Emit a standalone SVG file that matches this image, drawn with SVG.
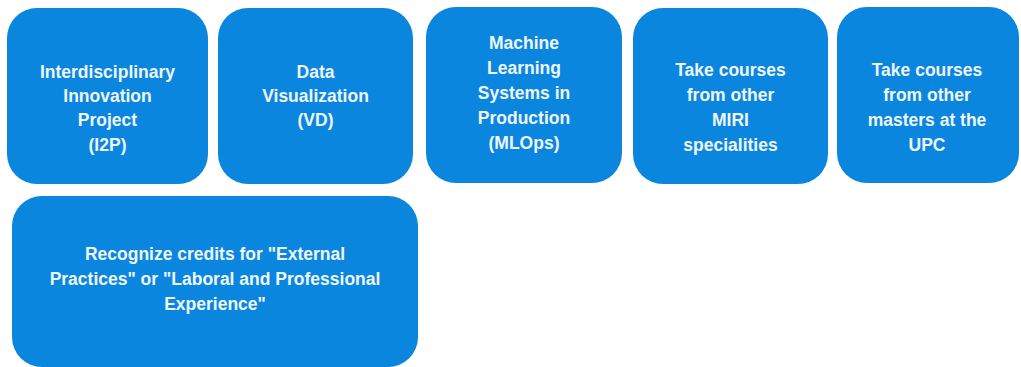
<svg xmlns="http://www.w3.org/2000/svg" width="1021" height="367" viewBox="0 0 1021 367">
<style>
.box{fill:#0a86df;}
.lbl{font-family:"Liberation Sans",Arial,sans-serif;font-weight:bold;font-size:17.5px;fill:#eef6ff;text-anchor:middle;}
</style>
<rect width="1021" height="367" fill="#ffffff"/>
<g id="node-i2p">
<rect class="box" x="7" y="8" width="201" height="176" rx="30"/>
<text class="lbl" x="107.5" y="78">Interdisciplinary</text>
<text class="lbl" x="107.5" y="102">Innovation</text>
<text class="lbl" x="107.5" y="126">Project</text>
<text class="lbl" x="107.5" y="151">(I2P)</text>
</g>
<g id="node-vd">
<rect class="box" x="218" y="8" width="195" height="176" rx="30"/>
<text class="lbl" x="315.5" y="78">Data</text>
<text class="lbl" x="315.5" y="102">Visualization</text>
<text class="lbl" x="315.5" y="126">(VD)</text>
</g>
<g id="node-mlops">
<rect class="box" x="426" y="7" width="196" height="176" rx="30"/>
<text class="lbl" x="524" y="49">Machine</text>
<text class="lbl" x="524" y="74">Learning</text>
<text class="lbl" x="524" y="99">Systems in</text>
<text class="lbl" x="524" y="124">Production</text>
<text class="lbl" x="524" y="149">(MLOps)</text>
</g>
<g id="node-miri">
<rect class="box" x="633" y="8" width="195" height="176" rx="30"/>
<text class="lbl" x="730.5" y="76">Take courses</text>
<text class="lbl" x="730.5" y="101">from other</text>
<text class="lbl" x="730.5" y="126">MIRI</text>
<text class="lbl" x="730.5" y="151">specialities</text>
</g>
<g id="node-upc">
<rect class="box" x="837" y="7" width="182" height="176" rx="30"/>
<text class="lbl" x="927" y="76">Take courses</text>
<text class="lbl" x="927" y="101">from other</text>
<text class="lbl" x="927" y="126">masters at the</text>
<text class="lbl" x="927" y="151">UPC</text>
</g>
<g id="node-credits">
<rect class="box" x="12" y="196" width="406" height="171" rx="30"/>
<text class="lbl" x="215" y="260">Recognize credits for "External</text>
<text class="lbl" x="215" y="285">Practices" or "Laboral and Professional</text>
<text class="lbl" x="215" y="310">Experience"</text>
</g>
<g id="connectors"></g>
</svg>
